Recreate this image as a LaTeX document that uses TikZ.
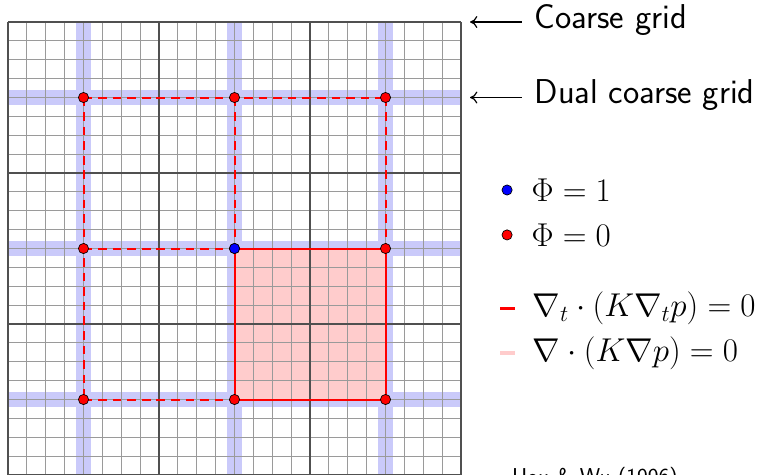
\documentclass[tikz,border=0pt]{standalone}
\usepackage{xcolor}
\usepackage{tikz}
\usetikzlibrary{positioning, arrows.meta, calc}
\definecolor{bandblue}{HTML}{CACAFA}
\definecolor{cellpink}{HTML}{FFCCCC}
\definecolor{finegray}{HTML}{9A9A9A}
\definecolor{coarsegray}{HTML}{505050}

\tikzset{
  dualband/.style={bandblue, line width=12pt},
  fineline/.style={finegray, line width=0.7pt},
  coarseline/.style={coarsegray, line width=1.3pt},
  dualedge/.style={red, line width=1.5pt, dash pattern=on 6.5pt off 4.5pt},
  celledge/.style={red, line width=1.5pt},
  gridpt/.style={circle, draw=black, line width=0.5pt, inner sep=0pt, minimum size=0.27cm},
  keytext/.style={anchor=west, inner sep=0pt, font=\fontsize{25.5}{30}\selectfont},
  labeltext/.style={anchor=base west, inner sep=0pt, font=\fontsize{26}{30}\selectfont\sffamily},
  pointer/.style={{Computer Modern Rightarrow[length=5.5pt, width=9pt]}-, line width=0.9pt},
}

\begin{document}
\begin{tikzpicture}
  \useasboundingbox (-0.212,0.027) rectangle (20.132,12.583);

  % dual coarse grid bands
  \foreach \c in {2,6,10} {
    \draw[dualband] (\c,0) -- (\c,12);
    \draw[dualband] (0,\c) -- (12,\c);
  }

  % points of the dual grid
  \foreach \i/\x in {1/2, 2/6, 3/10}
    \foreach \j/\y in {1/10, 2/6, 3/2}
      \coordinate (p\i\j) at (\x,\y);

  % the cell that is solved
  \fill[cellpink] (p22) rectangle (p33);

  % fine and coarse grid
  \draw[fineline, step=0.5] (0,0) grid (12,12);
  \draw[coarseline, step=4] (0,0) grid (12,12);

  % dual cell edges
  \draw[dualedge] (p11) -- (p21) -- (p31);
  \draw[dualedge] (p11) -- (p12) -- (p13);
  \draw[dualedge] (p21) -- (p22);
  \draw[dualedge] (p31) -- (p32);
  \draw[dualedge] (p12) -- (p22);
  \draw[dualedge] (p13) -- (p23);
  \draw[celledge] (p22) -- (p32) -- (p33) -- (p23) -- cycle;

  \foreach \i in {1,2,3}
    \foreach \j in {1,2,3}
      \node[gridpt, fill=red] (d\i\j) at (p\i\j) {};
  \node[gridpt, fill=blue] (d22) at (p22) {};

  % labels on the right
  \coordinate (cgtip) at (12.24,12);
  \coordinate (cgtail) at (13.62,12);
  \node[labeltext] (cgtext) at (13.95,11.83) {Coarse grid};
  \draw[pointer] (cgtip) -- (cgtail);

  \coordinate (dgtip) at (12.24,10);
  \coordinate (dgtail) at (13.62,10);
  \node[labeltext] (dgtext) at (13.95,9.83) {Dual coarse grid};
  \draw[pointer] (dgtip) -- (dgtail);

  \node[gridpt, fill=blue] (keyone) at (13.22,7.55) {};
  \node[keytext, right=0.5cm of keyone] (keyonetext) {$\Phi = 1$};
  \node[gridpt, fill=red] (keyzero) at (13.22,6.36) {};
  \node[keytext, right=0.5cm of keyzero] (keyzerotext) {$\Phi = 0$};

  \node[fill=red, inner sep=0pt, minimum width=0.4cm, minimum height=2.4pt] (keyred) at (13.23,4.42) {};
  \node[keytext, right=0.45cm of keyred] (keyredtext) {$\nabla_t \cdot (K \nabla_t p) = 0$};
  \node[fill=cellpink, inner sep=0pt, minimum width=0.4cm, minimum height=2.4pt] (keypink) at (13.23,3.23) {};
  \node[keytext, right=0.45cm of keypink] (keypinktext) {$\nabla \cdot (K \nabla p) = 0$};

  \node[anchor=north west, inner sep=0pt, font=\LARGE\sffamily] (ref) at (13.35,0.21) {Hou \& Wu (1996)};
\end{tikzpicture}
\end{document}
